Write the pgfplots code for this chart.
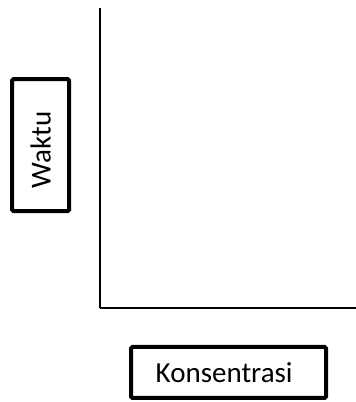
\documentclass[border=0pt]{standalone}
\usepackage{pgfplots}
\pgfplotsset{compat=1.18}
\usepackage{fontspec}
\setmainfont{Carlito}
\begin{document}
\begin{tikzpicture}[x=1pt,y=1pt]
\path[use as bounding box] (0,0) rectangle (356,402);
\begin{axis}[
  at={(100pt,94pt)}, anchor=south west,
  scale only axis, width=256pt, height=300pt,
  xmin=0, xmax=1, ymin=0, ymax=1,
  axis x line=bottom, axis y line=left,
  axis line style={-, line width=2pt, black},
  ticks=none,
  clip=false,
]
\node[draw, line width=4pt, rounded corners=1.5pt, minimum width=195pt, minimum height=51pt, inner sep=0pt]
  at (axis description cs:0.502,-0.215) {};
\node[font=\fontsize{29}{34}\selectfont, inner sep=0pt]
  at (axis description cs:0.485,-0.215) {Konsentrasi};
\node[draw, line width=4pt, rounded corners=1.5pt, minimum width=132pt, minimum height=57pt, inner sep=0pt, rotate=90]
  at (axis description cs:-0.232,0.543) {};
\node[font=\fontsize{29}{34}\selectfont, inner sep=0pt, rotate=90]
  at (axis description cs:-0.232,0.527) {Waktu};
\end{axis}
\end{tikzpicture}
\end{document}
